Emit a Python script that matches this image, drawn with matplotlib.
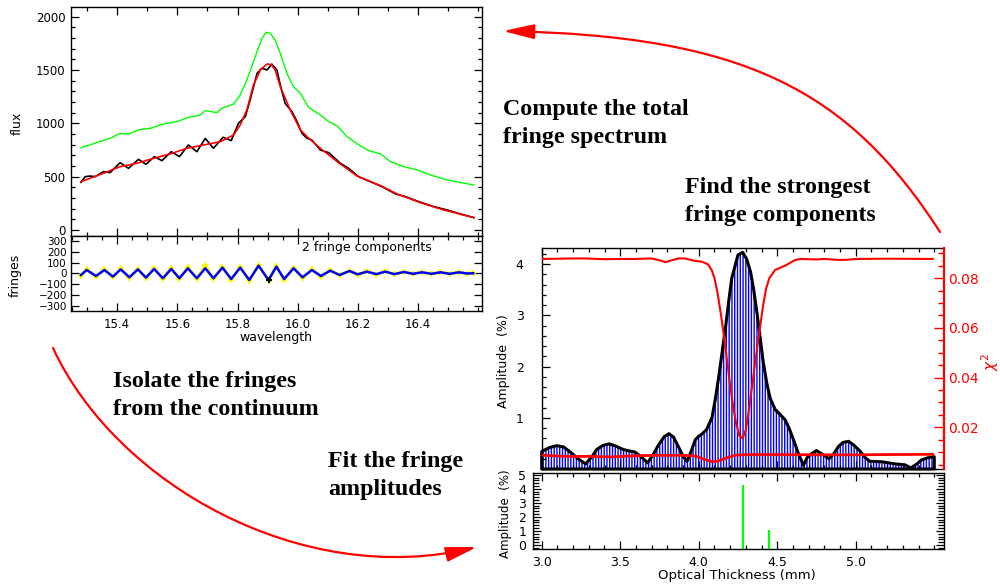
import matplotlib
matplotlib.use("Agg")
import matplotlib.pyplot as plt
from matplotlib.ticker import MultipleLocator, FixedLocator
from matplotlib.patches import FancyArrowPatch
from matplotlib.path import Path

# ---------------- spectrum around the line (left panels) ----------------
wave_raw = [15.280, 15.299, 15.343, 15.377, 15.410, 15.438, 15.471, 15.510, 15.554,
            15.599, 15.637, 15.676, 15.693, 15.732, 15.748, 15.787, 15.809, 15.831,
            15.859, 15.881, 15.895, 15.909, 15.925, 15.942, 15.964, 15.986, 16.009,
            16.036, 16.075, 16.103, 16.131, 16.164, 16.203, 16.236, 16.275, 16.308,
            16.352, 16.397, 16.441, 16.496, 16.585]
flux_raw = [772, 788, 828, 859, 906, 900, 938, 953, 994,
            1016, 1056, 1078, 1119, 1100, 1141, 1181, 1266, 1406,
            1625, 1797, 1853, 1844, 1781, 1656, 1469, 1344, 1281,
            1150, 1078, 1016, 975, 875, 797, 744, 713, 641,
            594, 563, 516, 469, 422]

wave_obs = [15.280, 15.294, 15.310, 15.327, 15.354, 15.377, 15.410, 15.438, 15.471,
            15.496, 15.524, 15.549, 15.580, 15.607, 15.637, 15.665, 15.693, 15.720,
            15.752, 15.779, 15.803, 15.826, 15.842, 15.865, 15.881, 15.898, 15.914,
            15.931, 15.942, 15.958, 15.981, 15.998, 16.014, 16.031, 16.047, 16.075,
            16.103, 16.142, 16.169, 16.202, 16.241, 16.280, 16.325, 16.358, 16.402,
            16.452, 16.496, 16.541, 16.585]
flux_obs = [447, 500, 506, 500, 547, 538, 631, 578, 663,
            616, 688, 650, 734, 688, 797, 734, 859, 766,
            869, 838, 1000, 1063, 1219, 1469, 1516, 1500, 1555,
            1500, 1359, 1188, 1109, 1016, 906, 859, 844, 750,
            725, 625, 578, 500, 453, 406, 338, 313, 266,
            219, 188, 150, 116]

wave_cont = [15.280, 15.354, 15.410, 15.465, 15.521, 15.576, 15.632, 15.687, 15.743,
             15.787, 15.809, 15.831, 15.853, 15.876, 15.898, 15.912, 15.925, 15.942,
             15.975, 16.009, 16.031, 16.075, 16.131, 16.197, 16.275, 16.330, 16.408,
             16.485, 16.585]
flux_cont = [453, 531, 594, 625, 672, 713, 766, 797, 828,
             891, 984, 1125, 1359, 1500, 1556, 1550, 1500, 1344,
             1125, 938, 875, 766, 641, 506, 416, 338, 256,
             188, 116]

wave_fringe = [15.280, 15.299, 15.330, 15.358, 15.386, 15.412, 15.441, 15.469, 15.496,
               15.523, 15.552, 15.580, 15.607, 15.635, 15.665, 15.693, 15.720, 15.750,
               15.779, 15.809, 15.839, 15.870, 15.903, 15.929, 15.955, 15.986, 16.016,
               16.047, 16.077, 16.108, 16.139, 16.172, 16.199, 16.230, 16.261, 16.291,
               16.321, 16.352, 16.383, 16.413, 16.444, 16.474, 16.505, 16.535, 16.563,
               16.583]
fringe_fit = [-14, 32, -23, 32, -29, 38, -35, 38, -38,
              42, -44, 42, -44, 48, -44, 48, -44, 54,
              -51, 54, -60, 72, -60, 63, -51, 48, -35,
              32, -23, 26, -14, 23, -8, 17, -6, 17,
              -6, 14, -3, 11, -3, 11, -3, 11, 0,
              2]
fringe_dat = [-20, 40, -30, 40, -35, 46, -42, 45, -45,
              50, -50, 48, -52, 58, -50, 80, -52, 62,
              -58, 62, -70, 78, -66, 70, -62, 55, -42,
              38, -28, 30, -18, 27, -12, 20, -10, 20,
              -8, 17, -6, 14, -5, 14, -5, 13, -2,
              6]
mark_wave = [15.906]
mark_fringe = [-62]
wave_ticks = [15.4, 15.6, 15.8, 16.0, 16.2, 16.4]

# ---------------- fringe spectrum (right panels) ----------------
thick_amp = [3.000, 3.050, 3.097, 3.140, 3.190, 3.240, 3.280, 3.320, 3.350, 3.390,
             3.430, 3.470, 3.520, 3.560, 3.595, 3.640, 3.674, 3.710, 3.744, 3.780,
             3.810, 3.840, 3.870, 3.900, 3.925, 3.950, 3.978, 4.000, 4.020, 4.050,
             4.084, 4.105, 4.126, 4.150, 4.170, 4.190, 4.210, 4.250, 4.280, 4.305,
             4.330, 4.350, 4.370, 4.390, 4.410, 4.435, 4.455, 4.487, 4.520, 4.550,
             4.575, 4.600, 4.635, 4.667, 4.690, 4.710, 4.750, 4.790, 4.830, 4.860,
             4.890, 4.920, 4.955, 4.990, 5.030, 5.060, 5.090, 5.167, 5.250, 5.315,
             5.350, 5.390, 5.420, 5.460, 5.500]
amp_pct = [0.34, 0.42, 0.455, 0.43, 0.31, 0.18, 0.10, 0.24, 0.38, 0.46,
           0.49, 0.45, 0.38, 0.35, 0.33, 0.22, 0.12, 0.28, 0.47, 0.63,
           0.69, 0.62, 0.44, 0.25, 0.15, 0.33, 0.57, 0.64, 0.68, 0.77,
           1.00, 1.35, 1.77, 2.30, 2.75, 3.25, 3.72, 4.18, 4.23, 4.10,
           3.85, 3.50, 3.07, 2.60, 2.10, 1.65, 1.38, 1.16, 1.06, 0.96,
           0.80, 0.60, 0.30, 0.07, 0.22, 0.28, 0.36, 0.28, 0.20, 0.30,
           0.44, 0.52, 0.54, 0.46, 0.34, 0.22, 0.15, 0.14, 0.10, 0.08,
           0.02, 0.10, 0.18, 0.22, 0.24]

thick_chi = [3.000, 3.100, 3.200, 3.277, 3.400, 3.500, 3.595, 3.700, 3.760, 3.787,
             3.830, 3.870, 3.914, 3.970, 4.020, 4.060, 4.084, 4.100, 4.120, 4.140,
             4.160, 4.180, 4.200, 4.220, 4.240, 4.260, 4.280, 4.300, 4.320, 4.345,
             4.370, 4.390, 4.410, 4.430, 4.450, 4.487, 4.550, 4.615, 4.650, 4.750,
             4.800, 4.900, 4.950, 5.000, 5.200, 5.490]
chi_scan = [0.0877, 0.0878, 0.0879, 0.0879, 0.0876, 0.0877, 0.0877, 0.0879, 0.0870, 0.0864,
            0.0872, 0.0879, 0.0879, 0.0870, 0.0866, 0.0855, 0.0830, 0.0800, 0.0740, 0.0660,
            0.0570, 0.0470, 0.0370, 0.0280, 0.0210, 0.0165, 0.0155, 0.0190, 0.0270, 0.0390,
            0.0510, 0.0600, 0.0690, 0.0760, 0.0800, 0.0833, 0.0850, 0.0873, 0.0877, 0.0875,
            0.0877, 0.0873, 0.0874, 0.0877, 0.0878, 0.0877]

thick_fit = [3.000, 3.100, 3.200, 3.300, 3.400, 3.460, 3.550, 3.650, 3.750, 3.900,
             3.980, 4.030, 4.080, 4.120, 4.170, 4.230, 4.300, 4.500, 4.800, 5.000,
             5.200, 5.490]
chi_fit = [0.0088, 0.0084, 0.0082, 0.0083, 0.0081, 0.0081, 0.0084, 0.0086, 0.0087, 0.0087,
           0.0084, 0.0072, 0.0062, 0.0063, 0.0075, 0.0087, 0.0090, 0.0090, 0.0089, 0.0089,
           0.0090, 0.0091]

comp_thick = [4.28, 4.45]
comp_amp = [4.25, 1.10]
thick_ticks = [3.0, 3.5, 4.0, 4.5, 5.0]

GREEN = "#00ff00"
RED = "#ff0000"
BLUE = "#0000ff"
YELLOW = "#ffff00"

plt.rcParams["font.family"] = "DejaVu Sans"
plt.rcParams["hatch.linewidth"] = 1.0

fig = plt.figure(figsize=(10, 5.85), dpi=100)


def idl_ticks(ax, size=8.5, pad=4):
    ax.tick_params(which="both", direction="in", top=True, right=True,
                   labelsize=size, pad=pad, width=0.9)
    ax.tick_params(which="major", length=6)
    ax.tick_params(which="minor", length=3)
    for s in ax.spines.values():
        s.set_linewidth(1.0)


# flux panel
ax_flux = fig.add_axes([0.071, 0.5966, 0.411, 0.391])
ax_flux.plot(wave_raw, flux_raw, color=GREEN, lw=1.0)
ax_flux.plot(wave_obs, flux_obs, color="black", lw=1.2)
ax_flux.plot(wave_cont, flux_cont, color=RED, lw=1.2)
ax_flux.set_xlim(15.247, 16.612)
ax_flux.set_ylim(-56, 2088)
ax_flux.xaxis.set_major_locator(FixedLocator(wave_ticks))
ax_flux.xaxis.set_minor_locator(MultipleLocator(0.1))
ax_flux.yaxis.set_major_locator(MultipleLocator(500))
ax_flux.yaxis.set_minor_locator(MultipleLocator(100))
idl_ticks(ax_flux)
ax_flux.tick_params(labelbottom=False)

# fringe panel
ax_fr = fig.add_axes([0.071, 0.4684, 0.411, 0.1282])
ax_fr.plot(wave_fringe, fringe_dat, color=YELLOW, lw=2.2, marker="+", ms=5, mew=1.4)
ax_fr.plot(wave_fringe, fringe_fit, color=BLUE, lw=1.8)
ax_fr.plot(mark_wave, mark_fringe, color="black", marker="+", ms=4, mew=1.5, ls="none")
ax_fr.set_xlim(15.247, 16.612)
ax_fr.set_ylim(-345, 345)
ax_fr.xaxis.set_major_locator(FixedLocator(wave_ticks))
ax_fr.xaxis.set_minor_locator(MultipleLocator(0.05))
ax_fr.yaxis.set_major_locator(MultipleLocator(100))
idl_ticks(ax_fr)
ax_fr.tick_params(axis="x", pad=5)
ax_fr.tick_params(axis="y", pad=3, labelsize=7.5)

# total fringe spectrum with chi-square scan
ax_amp = fig.add_axes([0.5417, 0.1983, 0.4023, 0.3773])
ax_amp.fill_between(thick_amp, 0, amp_pct, facecolor="none", edgecolor=BLUE,
                    hatch="||||||", linewidth=0)
ax_amp.fill_between(thick_amp, 0, amp_pct, facecolor="none", edgecolor="black",
                    linewidth=2.2, clip_on=False)
ax_amp.set_xlim(3.0, 5.562)
ax_amp.set_ylim(0, 4.31)
ax_amp.xaxis.set_major_locator(FixedLocator(thick_ticks))
ax_amp.xaxis.set_minor_locator(MultipleLocator(0.1))
ax_amp.yaxis.set_major_locator(FixedLocator([1, 2, 3, 4]))
ax_amp.yaxis.set_minor_locator(MultipleLocator(0.2))
idl_ticks(ax_amp, size=9, pad=13)
ax_amp.tick_params(right=False, labelbottom=False)
ax_amp.spines["right"].set_visible(False)

ax_chi = ax_amp.twinx()
ax_chi.plot(thick_chi, chi_scan, color=RED, lw=1.5)
ax_chi.plot(thick_fit, chi_fit, color=RED, lw=2.0)
ax_chi.set_ylim(0.0032, 0.092)
ax_chi.yaxis.set_major_locator(MultipleLocator(0.02))
ax_chi.yaxis.set_minor_locator(MultipleLocator(0.005))
ax_chi.yaxis.set_major_formatter(plt.FormatStrFormatter("%.2f"))
ax_chi.tick_params(which="both", direction="in", colors=RED, labelsize=10, pad=3, width=1.0)
ax_chi.tick_params(which="major", length=7)
ax_chi.tick_params(which="minor", length=4)
for side in ("left", "top", "bottom"):
    ax_chi.spines[side].set_visible(False)
ax_chi.spines["right"].set_color(RED)
ax_chi.spines["right"].set_linewidth(1.6)

# fitted fringe components
ax_comp = fig.add_axes([0.533, 0.061, 0.411, 0.1304])
ax_comp.vlines(comp_thick, -0.31, comp_amp, color=GREEN, lw=1.6)
ax_comp.set_xlim(2.945, 5.562)
ax_comp.set_ylim(-0.31, 5.12)
ax_comp.xaxis.set_major_locator(FixedLocator(thick_ticks))
ax_comp.xaxis.set_minor_locator(MultipleLocator(0.1))
ax_comp.xaxis.set_major_formatter(plt.FormatStrFormatter("%.1f"))
ax_comp.yaxis.set_major_locator(MultipleLocator(1))
ax_comp.yaxis.set_minor_locator(MultipleLocator(0.2))
idl_ticks(ax_comp, size=9, pad=5)
ax_comp.tick_params(axis="y", which="minor", length=4)

# labels, captions and arrows, in pixel coordinates
ov = fig.add_axes([0, 0, 1, 1])
ov.set_xlim(0, 1000)
ov.set_ylim(585, 0)
ov.axis("off")
ov.patch.set_visible(False)

ov.text(17, 123, "flux", rotation=90, ha="center", va="center", fontsize=9)
ov.text(15, 275, "fringes", rotation=90, ha="center", va="center", fontsize=9)
ov.text(276, 338, "wavelength", ha="center", va="center", fontsize=9)
ov.text(302, 247, "2 fringe components", ha="left", va="center", fontsize=9)
ov.text(503, 361, "Amplitude  (%)", rotation=90, ha="center", va="center", fontsize=9)
ov.text(990, 362, r"$\chi^2$", rotation=90, ha="center", va="center", fontsize=11, color=RED)
ov.text(505, 514, "Amplitude  (%)", rotation=90, ha="center", va="center", fontsize=8.5)
ov.text(737, 575, "Optical Thickness (mm)", ha="center", va="center", fontsize=9.5)

captions = [
    (503, [115, 143], ["Compute the total", "fringe spectrum"]),
    (685, [193, 221], ["Find the strongest", "fringe components"]),
    (113, [387, 415], ["Isolate the fringes", "from the continuum"]),
    (328, [467, 495], ["Fit the fringe", "amplitudes"]),
]
for x0, baselines, lines in captions:
    for yb, line in zip(baselines, lines):
        ov.text(x0, yb, line, ha="left", va="baseline", fontsize=17.3,
                fontweight="bold", family="Liberation Serif")

curve = [Path.MOVETO, Path.CURVE4, Path.CURVE4, Path.CURVE4]
arrows = [
    [(940, 232), (848, 89), (743, 36), (503, 31)],
    [(53, 348), (116, 484), (302, 589), (477, 547)],
]
for verts in arrows:
    ov.add_patch(FancyArrowPatch(path=Path(verts, curve),
                                 arrowstyle="-|>,head_length=1.9,head_width=0.45",
                                 mutation_scale=10, color=RED, lw=1.6))

fig.savefig("out.png", dpi=100)
